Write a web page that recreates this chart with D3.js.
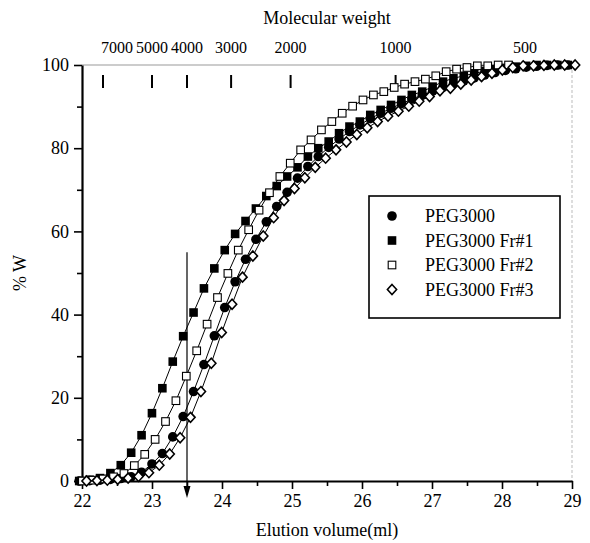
<!DOCTYPE html>
<html>
<head>
<meta charset="utf-8" />
<script src="https://cdn.jsdelivr.net/npm/d3@7"></script>
<style>
  body { margin: 0; background: #fff; }
  text { font-family: "Liberation Serif", "Times New Roman", serif; fill: #000; }
</style>
</head>
<body>
<script>
  // Data
  // ------------------------
  var seriesNames = ["PEG3000", "PEG3000 Fr#1", "PEG3000 Fr#2", "PEG3000 Fr#3"];
  var seriesSymbols = ["circle", "filledSquare", "openSquare", "diamond"];
  // elution volume of first sample in each run, and sampling interval (ml)
  var volStart = [21.96, 21.96, 22.005, 22.065];
  var volStep = 0.1485;

  var pegW = [0, 0.1, 0.2, 0.4, 0.6, 1, 2.1, 4.1, 6.6, 10.6, 15.5, 21.5, 28, 34.9, 41.7,
              47.9, 53.3, 58.1, 62.3, 66, 69.4, 72.8, 75.6, 78, 80.2, 82.2, 84, 85.6, 87.1,
              88.4, 89.6, 90.7, 91.8, 92.8, 93.7, 94.6, 95.4, 96.2, 96.9, 97.6, 98.2, 98.7,
              99.1, 99.5, 99.7, 99.9, 100, 100];
  var fr1W = [0, 0.3, 0.7, 1.9, 3.8, 6.8, 11, 16.3, 22.3, 28.7, 34.8, 40.5, 46.3, 51.1, 55.5,
              59.4, 62.5, 65.5, 68.5, 70.9, 73.2, 75.4, 78, 80, 81.6, 83.6, 85.2, 86.4, 88,
              89.2, 90.4, 91.6, 92.8, 93.6, 94.8, 96, 96.8, 97.4, 98, 98.5, 99, 99.3, 99.6,
              99.8, 100, 100, 100, 100];
  var fr2W = [0, 0.2, 0.5, 1.0, 1.8, 3.7, 6.4, 10, 14.3, 19.3, 25.2, 31.3, 37.7, 44.1, 49.9,
              55.5, 60.4, 65.1, 69.3, 73.2, 76.4, 79.6, 82, 84.4, 86.4, 88.4, 90.1, 91.6, 92.8,
              93.6, 94.6, 95.4, 96, 96.6, 97.4, 98.4, 99, 99.4, 99.8, 99.8, 100, 100];
  var fr3W = [0, 0.1, 0.2, 0.4, 0.7, 1.1, 2, 3.8, 6.5, 10.4, 15.3, 21.5, 28.3, 35.7, 42.5,
              49, 54.1, 58.9, 63.3, 67.4, 70.3, 72.9, 75.4, 77.6, 79.6, 81.5, 83.3, 84.9, 86.4,
              87.7, 88.9, 90.1, 91.3, 92.4, 93.8, 94.4, 95.4, 96.4, 97.2, 98, 98.8, 99.4, 99.8,
              99.8, 99.9, 100, 100, 100];
  var seriesW = [pegW, fr1W, fr2W, fr3W];

  // molecular weight calibration shown along the top
  var mwLabels   = ["7000", "5000", "4000", "3000", "2000", "1000", "500"];
  var mwTickVol  = [22.3, 23.0, 23.5, 24.13, 24.98, 26.48, null];
  var mwLabelVol = [22.5, 23.0, 23.5, 24.13, 24.98, 26.48, 28.33];

  var arrowVol = 23.5;
  var arrowTopW = 55;

  //-------------------------------------------
  var w = 590, h = 543;
  var x = d3.scaleLinear().domain([22, 29]).range([82, 572]);
  var y = d3.scaleLinear().domain([0, 100]).range([481, 65]);

  var svg = d3.select("body").append("svg")
              .attr("width", w)
              .attr("height", h);

  svg.append("rect").attr("width", w).attr("height", h).attr("fill", "#fff");

  // light frame on top and right
  svg.append("line")
     .attr("x1", x(22)).attr("x2", x(29)).attr("y1", y(100)).attr("y2", y(100))
     .attr("stroke", "#999").attr("stroke-width", 1);
  svg.append("line")
     .attr("x1", x(29)).attr("x2", x(29)).attr("y1", y(100)).attr("y2", y(0))
     .attr("stroke", "#bbb").attr("stroke-width", 1).attr("stroke-dasharray", "3,2");

  // axes
  function styleAxis(g) {
    g.select(".domain").attr("stroke-width", 2.2);
    g.selectAll(".tick line").attr("stroke-width", 1.6);
    g.selectAll("text").attr("font-size", 18);
  }

  svg.append("g")
     .attr("transform", "translate(0," + y(0) + ")")
     .call(d3.axisBottom(x).tickValues(d3.range(22.5, 29, 1)).tickSize(5).tickFormat(""))
     .call(function(g) { g.select(".domain").remove(); g.selectAll(".tick line").attr("stroke-width", 1.6); });
  svg.append("g")
     .attr("transform", "translate(0," + y(0) + ")")
     .call(d3.axisBottom(x).tickValues(d3.range(22, 29.01, 1)).tickSize(8).tickSizeOuter(0).tickPadding(5).tickFormat(d3.format("d")))
     .call(styleAxis);

  svg.append("g")
     .attr("transform", "translate(" + x(22) + ",0)")
     .call(d3.axisLeft(y).tickValues(d3.range(10, 100, 20)).tickSize(5).tickFormat(""))
     .call(function(g) { g.select(".domain").remove(); g.selectAll(".tick line").attr("stroke-width", 1.6); });
  svg.append("g")
     .attr("transform", "translate(" + x(22) + ",0)")
     .call(d3.axisLeft(y).tickValues(d3.range(0, 101, 20)).tickSize(8).tickSizeOuter(0).tickPadding(5))
     .call(styleAxis);

  // axis titles
  svg.append("text")
     .attr("x", (x(22) + x(29)) / 2).attr("y", 536)
     .attr("text-anchor", "middle").attr("font-size", 18)
     .text("Elution volume(ml)");
  svg.append("text")
     .attr("transform", "translate(26," + y(50) + ") rotate(-90)")
     .attr("text-anchor", "middle").attr("font-size", 18)
     .text("% W");

  // molecular weight scale along the top
  svg.append("text")
     .attr("x", (x(22) + x(29)) / 2).attr("y", 24)
     .attr("text-anchor", "middle").attr("font-size", 18)
     .text("Molecular weight");
  svg.selectAll("text.mw")
     .data(mwLabels)
     .enter().append("text")
     .attr("class", "mw")
     .attr("x", function(d, i) { return x(mwLabelVol[i]); })
     .attr("y", 53)
     .attr("text-anchor", "middle").attr("font-size", 16)
     .text(function(d) { return d; });
  svg.selectAll("line.mwtick")
     .data(mwTickVol.filter(function(v) { return v !== null; }))
     .enter().append("line")
     .attr("class", "mwtick")
     .attr("x1", function(d) { return x(d); }).attr("x2", function(d) { return x(d); })
     .attr("y1", 75).attr("y2", 88)
     .attr("stroke", "#000").attr("stroke-width", 2);

  // arrow at 23.5 ml
  svg.append("line")
     .attr("x1", x(arrowVol)).attr("x2", x(arrowVol))
     .attr("y1", y(arrowTopW)).attr("y2", 490)
     .attr("stroke", "#000").attr("stroke-width", 1.2);
  svg.append("path")
     .attr("d", "M" + (x(arrowVol) - 3.5) + ",486 L" + (x(arrowVol) + 3.5) + ",486 L" + x(arrowVol) + ",498 Z")
     .attr("fill", "#000");

  // symbols
  function drawSymbol(sel, kind, cx, cy) {
    if (kind === "circle") {
      sel.append("circle").attr("cx", cx).attr("cy", cy).attr("r", 4.8)
         .attr("fill", "#000");
    } else if (kind === "filledSquare") {
      sel.append("rect").attr("x", cx - 4.3).attr("y", cy - 4.3).attr("width", 8.6).attr("height", 8.6)
         .attr("fill", "#000");
    } else if (kind === "openSquare") {
      sel.append("rect").attr("x", cx - 3.8).attr("y", cy - 3.8).attr("width", 7.6).attr("height", 7.6)
         .attr("fill", "#fff").attr("stroke", "#000").attr("stroke-width", 1.1);
    } else {
      sel.append("path")
         .attr("d", "M" + cx + "," + (cy - 5) + " L" + (cx + 4.6) + "," + cy + " L" + cx + "," + (cy + 5) + " L" + (cx - 4.6) + "," + cy + " Z")
         .attr("fill", "#fff").attr("stroke", "#000").attr("stroke-width", 1.6);
    }
  }

  var line = d3.line()
               .x(function(d) { return x(d.v); })
               .y(function(d) { return y(d.w); });

  seriesW.forEach(function(ws, s) {
    var pts = ws.map(function(wv, i) { return { v: volStart[s] + i * volStep, w: wv }; });
    var g = svg.append("g").attr("class", "series");
    g.append("path")
     .datum(pts)
     .attr("d", line)
     .attr("fill", "none")
     .attr("stroke", "#000")
     .attr("stroke-width", 1);
    pts.forEach(function(p) { drawSymbol(g, seriesSymbols[s], x(p.v), y(p.w)); });
  });

  // legend
  var lg = svg.append("g");
  lg.append("rect")
    .attr("x", 369).attr("y", 196).attr("width", 191).attr("height", 122)
    .attr("fill", "#fff").attr("stroke", "#000").attr("stroke-width", 1.6);
  seriesNames.forEach(function(name, i) {
    var cy = 216 + i * 24.5;
    drawSymbol(lg, seriesSymbols[i], 392, cy);
    lg.append("text")
      .attr("x", 425).attr("y", cy + 6)
      .attr("font-size", 18)
      .text(name);
  });
</script>
</body>
</html>
